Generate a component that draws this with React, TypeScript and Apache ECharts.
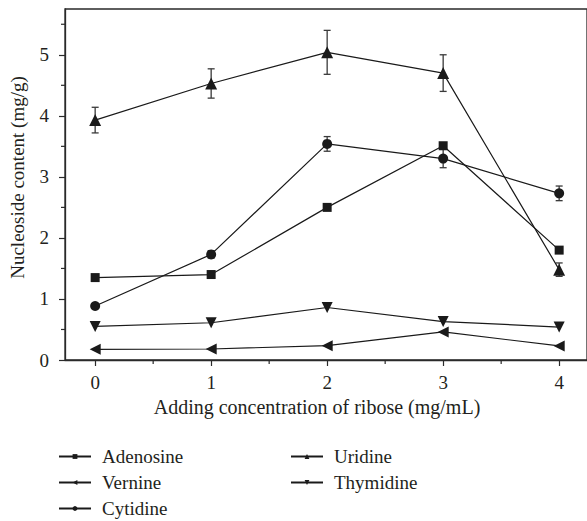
import React, { useEffect, useRef } from "react";
import * as echarts from "echarts";

const xValues = [0, 1, 2, 3, 4];
const adenosine = [1.35, 1.4, 2.5, 3.51, 1.8];
const vernine = [0.175, 0.18, 0.235, 0.46, 0.23];
const cytidine = [0.885, 1.73, 3.54, 3.3, 2.73];
const cytidineErr = [0, 0.06, 0.12, 0.15, 0.12];
const uridine = [3.93, 4.53, 5.04, 4.7, 1.48];
const uridineErr = [0.21, 0.24, 0.36, 0.3, 0.11];
const thymidine = [0.55, 0.61, 0.86, 0.63, 0.54];
const yTicks = [0, 1, 2, 3, 4, 5];
const yMinorTicks = [0.5, 1.5, 2.5, 3.5, 4.5, 5.5];
const xTicks = [0, 1, 2, 3, 4];
const xMinorTicks = [0.5, 1.5, 2.5, 3.5];
const X_MIN = -0.26;
const X_MAX = 4.24;
const Y_MIN = 0;
const Y_MAX = 5.75;

const FONT = "Liberation Serif";
const TEXT = "#231f20";
const INK = "#1a1a1a";
const AXIS = "#2a2a2a";

function pairs(vals: number[]) {
  return vals.map((v, i) => [xValues[i], v]);
}

function errData(vals: number[], errs: number[]) {
  return vals
    .map((v, i) => [xValues[i], v - errs[i], v + errs[i], errs[i]])
    .filter((d) => d[3] > 0);
}

function errorSeries(name: string, vals: number[], errs: number[]) {
  return {
    type: "custom",
    name: name + "err",
    data: errData(vals, errs),
    z: 1,
    silent: true,
    renderItem: (params: any, api: any) => {
      const x = api.value(0);
      const lo = api.coord([x, api.value(1)]);
      const hi = api.coord([x, api.value(2)]);
      const w = 3.5;
      const style = { stroke: "#3a3a3a", lineWidth: 1.3 };
      return {
        type: "group",
        children: [
          { type: "line", shape: { x1: lo[0], y1: lo[1], x2: hi[0], y2: hi[1] }, style },
          { type: "line", shape: { x1: lo[0] - w, y1: lo[1], x2: lo[0] + w, y2: lo[1] }, style },
          { type: "line", shape: { x1: hi[0] - w, y1: hi[1], x2: hi[0] + w, y2: hi[1] }, style },
        ],
      };
    },
  };
}

// minor ticks drawn through the axis scales
function minorTickSeries() {
  const data = [
    ...yMinorTicks.map((v) => [X_MIN, v, 0]),
    ...xMinorTicks.map((v) => [v, Y_MIN, 1]),
  ];
  return {
    type: "custom",
    name: "minorTicks",
    data,
    clip: false,
    silent: true,
    z: 5,
    renderItem: (params: any, api: any) => {
      const p = api.coord([api.value(0), api.value(1)]);
      const isX = api.value(2) === 1;
      const style = { stroke: AXIS, lineWidth: 1.2 };
      return isX
        ? { type: "line", shape: { x1: p[0], y1: p[1], x2: p[0], y2: p[1] + 4 }, style }
        : { type: "line", shape: { x1: p[0] - 4, y1: p[1], x2: p[0], y2: p[1] }, style };
    },
  };
}

function lineSeries(name: string, vals: number[], symbol: string, size: number, rotate = 0) {
  return {
    type: "line",
    name,
    data: pairs(vals),
    symbol,
    symbolSize: size,
    symbolRotate: rotate,
    showAllSymbol: true,
    lineStyle: { color: INK, width: 1.2 },
    itemStyle: { color: INK },
    z: 3,
  };
}

export default function App() {
  const ref = useRef<HTMLDivElement>(null);
  useEffect(() => {
    if (!ref.current) return;
    const chart = echarts.init(ref.current, undefined, { renderer: "svg" });
    const legendCommon = {
      orient: "vertical",
      itemWidth: 32,
      itemHeight: 6,
      itemGap: 7,
      padding: 0,
      height: 90,
      textStyle: { fontFamily: FONT, fontSize: 19, color: TEXT, padding: [0, 0, 0, 6] },
      inactiveColor: INK,
      selectedMode: false,
    };
    chart.setOption({
      animation: false,
      backgroundColor: "#ffffff",
      textStyle: { fontFamily: FONT },
      grid: { left: 65, top: 9, right: 0, bottom: 161, show: true, borderColor: AXIS, borderWidth: 1.3 },
      legend: [
        { ...legendCommon, left: 58, top: 447, data: ["Adenosine", "Vernine", "Cytidine"] },
        { ...legendCommon, left: 290, top: 447, data: ["Uridine", "Thymidine"] },
      ],
      xAxis: {
        type: "value",
        min: X_MIN,
        max: X_MAX,
        splitLine: { show: false },
        axisLine: { lineStyle: { color: AXIS, width: 1.3 }, onZero: false },
        axisTick: { customValues: xTicks, length: 6, lineStyle: { color: AXIS, width: 1.2 } },
        axisLabel: { customValues: xTicks, fontFamily: FONT, fontSize: 19, color: TEXT, margin: 13 },
        name: "Adding concentration of ribose (mg/mL)",
        nameLocation: "middle",
        nameGap: 37,
        nameTextStyle: { fontFamily: FONT, fontSize: 20, color: TEXT, padding: [0, 18, 0, 0] },
      },
      yAxis: {
        type: "value",
        min: Y_MIN,
        max: Y_MAX,
        splitLine: { show: false },
        axisLine: { show: true, lineStyle: { color: AXIS, width: 1.3 }, onZero: false },
        axisTick: { show: true, customValues: yTicks, length: 6, lineStyle: { color: AXIS, width: 1.2 } },
        axisLabel: { customValues: yTicks, fontFamily: FONT, fontSize: 19, color: TEXT, margin: 16 },
        name: "Nucleoside content (mg/g)",
        nameLocation: "middle",
        nameGap: 38,
        nameTextStyle: { fontFamily: FONT, fontSize: 19, color: TEXT, padding: [0, 0, 0, 14] },
      },
      series: [
        minorTickSeries(),
        errorSeries("Uridine", uridine, uridineErr),
        errorSeries("Cytidine", cytidine, cytidineErr),
        lineSeries("Adenosine", adenosine, "rect", 9),
        lineSeries("Vernine", vernine, "triangle", 11, 90),
        lineSeries("Cytidine", cytidine, "circle", 10),
        lineSeries("Uridine", uridine, "triangle", 12),
        lineSeries("Thymidine", thymidine, "triangle", 11, 180),
      ],
    });
    return () => chart.dispose();
  }, []);
  return <div ref={ref} style={{ position: "fixed", left: 0, top: 0, width: 587, height: 521 }} />;
}
